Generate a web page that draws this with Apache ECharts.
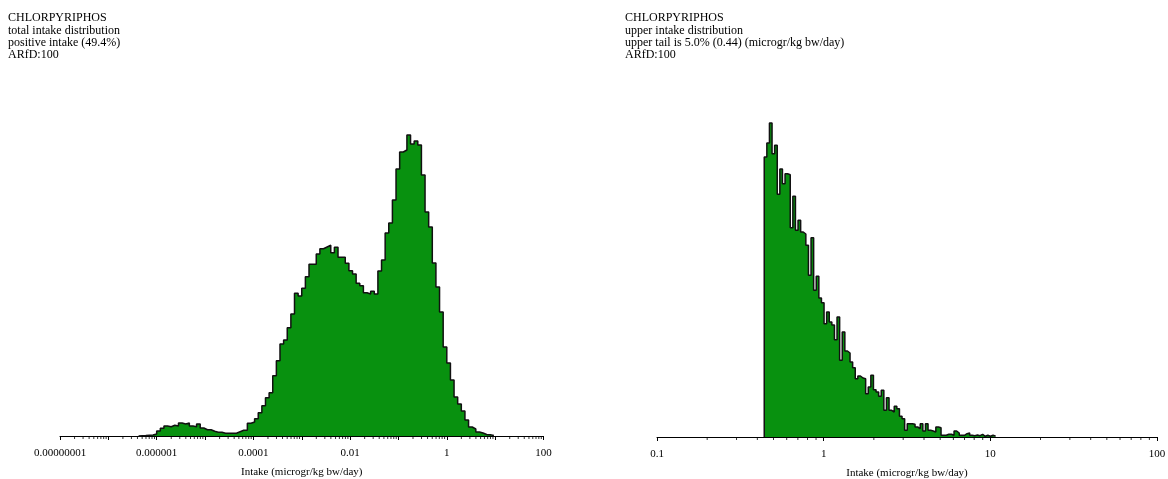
<!DOCTYPE html>
<html>
<head>
<meta charset="utf-8">
<script src="https://cdn.jsdelivr.net/npm/echarts/dist/echarts.min.js"></script>
<style>
  html, body { margin: 0; padding: 0; background: #ffffff; }
  #chart { width: 1168px; height: 479px; }
</style>
</head>
<body>
<div id="chart"></div>
<script>
// Header text for both panels
const totalTitle = ['CHLORPYRIPHOS', 'total intake distribution', 'positive intake (49.4%)', 'ARfD:100'];
const upperTitle = ['CHLORPYRIPHOS', 'upper intake distribution', 'upper tail is 5.0% (0.44) (microgr/kg bw/day)', 'ARfD:100'];
const axisName = 'Intake (microgr/kg bw/day)';

// Total intake histogram: bins equally wide in log10(intake)
const totalBinStart = -6.375;   // log10 of the first bin's lower edge
const totalBinWidth = 0.075;    // bin width in decades
const totalFreq = [
  0.3, 0.5, 0.8, 1, 2, 5, 7.7, 10, 9.3, 10.7,
  10, 13, 12, 13, 10, 9.3, 12, 8, 6.3, 6.3,
  4.7, 3.7, 3.7, 2.7, 2.7, 2.7, 2.7, 4.3, 5.7, 5.7,
  12.7, 14, 17.3, 23.3, 30.3, 38.3, 43.3, 60.3, 75.3, 92,
  96, 108.3, 122, 142.7, 140, 147.7, 159.3, 171.7, 171.7, 182,
  187.3, 189, 190.7, 183.3, 188.7, 178.7, 178.7, 172.7, 165.3, 162,
  152.7, 150.3, 143.3, 142, 144.7, 142, 165, 176, 203, 213,
  236, 267, 284, 286, 301, 292, 295, 291, 261, 224,
  209, 173, 149, 124, 89, 73, 56, 39, 32, 25,
  16, 9, 7, 4, 3, 1.5, 1.2, 0.5
];

// Upper tail histogram: starts at the 95th percentile (0.44)
const upperBinStart = Math.log10(0.44);
const upperBinWidth = 0.0156;
const upperFreq = [
  280, 294, 314, 283.3, 291.7, 242.7, 268, 253.3, 263.3, 262.3,
  209.3, 240.7, 206.7, 216.7, 205, 203, 191.7, 161.7, 199.3, 146.7,
  160.7, 139, 134.3, 113.3, 125, 115, 112, 97.3, 120, 76.7,
  105, 86, 84, 75, 69.3, 58.3, 61, 59, 58.3, 43.3,
  50, 61.7, 47.3, 45, 40.7, 46.7, 26.7, 39.3, 26.7, 25,
  30.7, 28.3, 20.7, 18.3, 6.7, 13.3, 13.3, 12.7, 10, 8.3,
  13.3, 6, 13.3, 6.7, 6, 5, 10, 9.3, 1.7, 1.7,
  2.7, 2.7, 1.7, 6, 4, 1.7, 1.7, 3.3, 4, 1.7,
  1.3, 2, 1.3, 2.7, 0.7, 1.7, 0.7, 1.7, 0.7
];

// Axis ranges (decade exponents) and which decades carry a label
const totalExpRange = [-8, 2];
const upperExpRange = [-1, 2];
const totalLabelExps = [-8, -6, -4, -2, 0, 2];
const upperLabelExps = [-1, 0, 1, 2];

const FONT = '"Liberation Serif", "Times New Roman", serif';
const FILL = '#08910f';

// Outline of a histogram as a closed step path (bin edges in real units)
function stepOutline(start, width, freq) {
  const pts = [[Math.pow(10, start), 0]];
  freq.forEach((f, i) => {
    pts.push([Math.pow(10, start + i * width), f]);
    pts.push([Math.pow(10, start + (i + 1) * width), f]);
  });
  pts.push([Math.pow(10, start + freq.length * width), 0]);
  return pts;
}

// Minor tick positions 2..9 x 10^e inside the axis range
function minorTicks(expRange) {
  const out = [];
  for (let e = expRange[0]; e < expRange[1]; e++) {
    for (let m = 2; m <= 9; m++) out.push([m * Math.pow(10, e), 0]);
  }
  return out;
}

function decimalLabel(e) {
  if (e < 0) return '0.' + '0'.repeat(-e - 1) + '1';
  return '1' + '0'.repeat(e);
}

function xAxisFor(gridIndex, expRange, labelExps) {
  return {
    type: 'log', logBase: 10, gridIndex,
    min: Math.pow(10, expRange[0]), max: Math.pow(10, expRange[1]),
    interval: 1,
    name: axisName, nameLocation: 'middle', nameGap: 31,
    nameTextStyle: { fontFamily: FONT, fontSize: 11, color: '#000' },
    axisLine: { show: true, lineStyle: { color: '#000', width: 1 } },
    axisTick: { show: true, length: 4, lineStyle: { color: '#000', width: 1 } },
    splitLine: { show: false },
    axisLabel: {
      fontFamily: FONT, fontSize: 11, color: '#000', margin: 12,
      formatter: (v) => {
        const e = Math.round(Math.log10(v));
        return labelExps.includes(e) ? decimalLabel(e) : '';
      }
    }
  };
}

function yAxisFor(gridIndex, max) {
  return { type: 'value', gridIndex, min: 0, max, show: false };
}

function histSeries(idx, start, width, freq) {
  return {
    type: 'line', xAxisIndex: idx, yAxisIndex: idx,
    data: stepOutline(start, width, freq),
    symbol: 'none', silent: true, animation: false,
    lineStyle: { color: '#111', width: 1.5 },
    areaStyle: { color: FILL, opacity: 1 }
  };
}

function tickSeries(idx, expRange) {
  return {
    type: 'scatter', xAxisIndex: idx, yAxisIndex: idx,
    data: minorTicks(expRange), clip: false, silent: true, animation: false,
    symbol: 'rect', symbolSize: [1, 3], symbolOffset: [0, 1.5],
    itemStyle: { color: '#000' }, z: 5
  };
}

const chart = echarts.init(document.getElementById('chart'), null, { renderer: 'canvas' });
chart.setOption({
  backgroundColor: '#ffffff',
  animation: false,
  title: [
    { left: 3, top: 7, text: totalTitle.join('\n'),
      textStyle: { fontFamily: FONT, fontSize: 12, fontWeight: 'normal', color: '#000', lineHeight: 12.3 } },
    { left: 620, top: 7, text: upperTitle.join('\n'),
      textStyle: { fontFamily: FONT, fontSize: 12, fontWeight: 'normal', color: '#000', lineHeight: 12.3 } }
  ],
  grid: [
    { left: 60, width: 483.5, top: 126, bottom: 43, outerBoundsMode: 'none', containLabel: false },
    { left: 657, width: 500, top: 107, bottom: 42, outerBoundsMode: 'none', containLabel: false }
  ],
  xAxis: [
    xAxisFor(0, totalExpRange, totalLabelExps),
    xAxisFor(1, upperExpRange, upperLabelExps)
  ],
  yAxis: [yAxisFor(0, 310), yAxisFor(1, 330)],
  series: [
    histSeries(0, totalBinStart, totalBinWidth, totalFreq),
    histSeries(1, upperBinStart, upperBinWidth, upperFreq),
    tickSeries(0, totalExpRange),
    tickSeries(1, upperExpRange)
  ]
});
</script>
</body>
</html>
